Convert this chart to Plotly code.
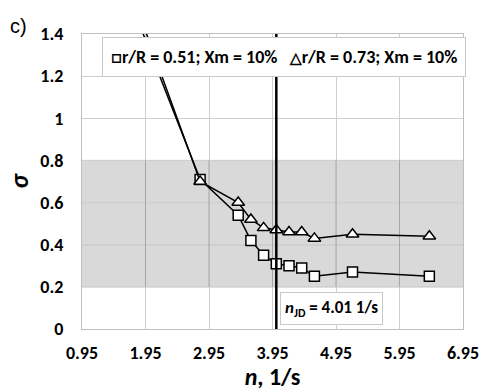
import plotly.graph_objects as go

# ---- data ----
n_sq = [1.81, 2.81, 3.41, 3.61, 3.81, 4.01, 4.21, 4.41, 4.61, 5.21, 6.42]
sigma_sq = [1.48, 0.71, 0.54, 0.42, 0.35, 0.31, 0.30, 0.29, 0.25, 0.27, 0.25]
n_tr = [1.81, 2.81, 3.41, 3.61, 3.81, 4.01, 4.21, 4.41, 4.61, 5.21, 6.42]
sigma_tr = [1.53, 0.70, 0.60, 0.52, 0.48, 0.47, 0.46, 0.46, 0.43, 0.45, 0.44]
name_sq = "r/R = 0.51; Xm = 10%"
name_tr = "r/R = 0.73; Xm = 10%"
n_jd = 4.01
band = [0.2, 0.8]
x_ticks = [0.95, 1.95, 2.95, 3.95, 4.95, 5.95, 6.95]
y_ticks = [0, 0.2, 0.4, 0.6, 0.8, 1.0, 1.2, 1.4]
y_tick_text = ["0", "0.2", "0.4", "0.6", "0.8", "1", "1.2", "1.4"]

FONT = "Carlito, Lato, sans-serif"

fig = go.Figure()
line_style = dict(color="black", width=1.5)
fig.add_trace(go.Scatter(x=n_sq, y=sigma_sq, mode="lines+markers", line=line_style, name=name_sq,
                         marker=dict(symbol="square", size=10, color="white",
                                     line=dict(color="black", width=1.5)),
                         showlegend=False))
fig.add_trace(go.Scatter(x=n_tr, y=sigma_tr, mode="lines+markers", line=line_style, name=name_tr,
                         marker=dict(symbol="triangle-up", size=11, color="white",
                                     line=dict(color="black", width=1.5)),
                         showlegend=False))

shapes = []
# grey band
shapes.append(dict(type="rect", xref="paper", yref="y", x0=0, x1=1, y0=band[0], y1=band[1],
                   fillcolor="#d9d9d9", line=dict(width=0), layer="below"))
# darker grid inside band
for yv in y_ticks:
    if band[0] <= yv <= band[1]:
        shapes.append(dict(type="line", xref="paper", yref="y", x0=0, x1=1, y0=yv, y1=yv,
                           line=dict(color="#a6a6a6", width=1), layer="between"))
for xv in x_ticks[1:-1]:
    shapes.append(dict(type="line", xref="x", yref="y", x0=xv, x1=xv, y0=band[0], y1=band[1],
                       line=dict(color="#a6a6a6", width=1), layer="between"))
# n_JD line
shapes.append(dict(type="line", xref="x", yref="paper", x0=n_jd, x1=n_jd, y0=0, y1=1,
                   line=dict(color="black", width=2.5), layer="above"))

legend_text = ("<span style='font-size:18px'>□</span>" + name_sq + "   "
               + "<span style='font-size:15px'>△</span>" + name_tr)

fig.update_layout(
    width=480, height=391,
    margin=dict(l=82, r=17, t=34, b=62, autoexpand=False),
    paper_bgcolor="white", plot_bgcolor="white",
    font=dict(family=FONT, size=17, color="black"),
    shapes=shapes,
    showlegend=False,
    xaxis=dict(range=[0.95, 6.9501], tickvals=x_ticks, ticktext=[f"{v:.2f}" for v in x_ticks],
               automargin=True,
               showgrid=True, gridcolor="#cfcfcf", gridwidth=1,
               showline=True, linecolor="#bfbfbf", mirror=True, zeroline=False,
               ticks="", ticklabelstandoff=7,
               tickfont=dict(family=FONT, size=18, weight="bold"),
               title=dict(text="<i>n</i>, 1/s", font=dict(family=FONT, size=24, weight="bold"),
                          standoff=3)),
    yaxis=dict(range=[0, 1.4], tickvals=y_ticks, ticktext=y_tick_text,
               automargin=True,
               showgrid=True, gridcolor="#cfcfcf", gridwidth=1,
               showline=True, linecolor="#bfbfbf", mirror=True, zeroline=False,
               ticks="", ticklabelstandoff=14,
               tickfont=dict(family=FONT, size=18, weight="bold"),
               title=dict(text="<i>σ</i>", font=dict(family=FONT, size=26, weight="bold"),
                          standoff=4)),
    annotations=[
        dict(text="c)", xref="paper", yref="paper", x=(8 - 82) / 381, y=(329 - 13) / 295,
             xanchor="left", yanchor="top", showarrow=False,
             font=dict(family="Liberation Sans, Arial, sans-serif", size=20)),
        dict(text=legend_text, xref="paper", yref="paper",
             x=(284 - 82) / 381, y=(329 - 57) / 295, xanchor="center", yanchor="middle",
             showarrow=False, bgcolor="white", bordercolor="#c8c8c8", borderwidth=1,
             borderpad=8, font=dict(family=FONT, size=18, weight="bold")),
        dict(text="<i>n</i><sub>JD</sub> = 4.01 1/s", xref="paper", yref="paper",
             x=(280 - 82) / 381, y=(329 - 292) / 295, xanchor="left", yanchor="top",
             showarrow=False, bgcolor="white", bordercolor="#c8c8c8", borderwidth=1,
             borderpad=4, font=dict(family=FONT, size=17, weight="bold")),
    ],
)

fig.write_html("out.html")
